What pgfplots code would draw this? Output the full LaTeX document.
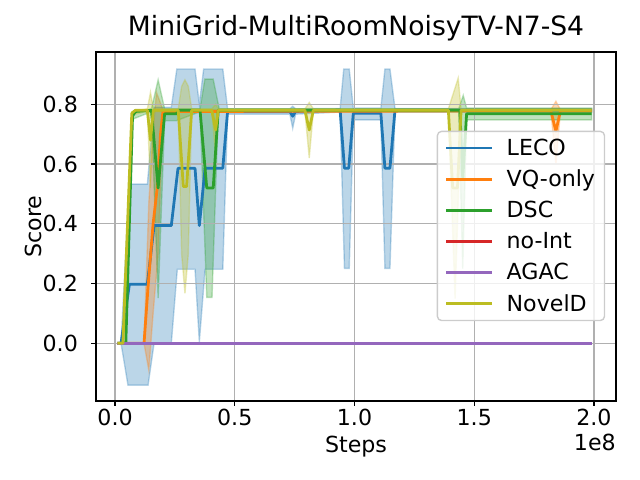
\documentclass[border=0pt]{standalone}
\usepackage{pgfplots}
\pgfplotsset{compat=1.18}
\usepackage{fontspec}
\setmainfont{DejaVu Sans}
\definecolor{c0}{HTML}{1F77B4}
\definecolor{c1}{HTML}{FF7F0E}
\definecolor{c2}{HTML}{2CA02C}
\definecolor{c3}{HTML}{D62728}
\definecolor{c4}{HTML}{9467BD}
\definecolor{c8}{HTML}{BCBD22}
\definecolor{gridgray}{HTML}{B0B0B0}
\definecolor{legedge}{HTML}{CCCCCC}
\newcommand\legtxt[1]{\makebox[0.89in][l]{\rule[-0.05in]{0pt}{0.21in}#1}}
\pgfplotsset{common/.style={at={(0.96in,0.79in)}, anchor=south west, scale only axis,
  width=5.2in, height=3.49in, xmin=-0.0795, xmax=2.092, ymin=-0.193, ymax=0.975}}
\begin{document}
\begin{tikzpicture}
\path[use as bounding box] (0,0) rectangle (6.4in,4.8in);
\begin{axis}[common, hide axis]
\addplot[fill=c0, draw=c0, fill opacity=0.3, draw opacity=0.3, line width=1bp] coordinates {
(0.01,0) (0.025,0) (0.06,0.533) (0.135,0.533) (0.163,0.79) (0.235,0.79) (0.258,0.918) (0.334,0.918) (0.352,0.80) (0.37,0.918) (0.45,0.918) (0.47,0.785) (0.73,0.785) (0.742,0.793) (0.754,0.785) (0.94,0.786) (0.955,0.918) (0.978,0.918) (0.995,0.787) (1.11,0.787) (1.127,0.918) (1.148,0.918) (1.169,0.786) (1.99,0.786)
(1.99,0.774) (1.169,0.774) (1.148,0.251) (1.127,0.251) (1.11,0.748) (0.995,0.748) (0.978,0.251) (0.958,0.251) (0.94,0.774) (0.754,0.767) (0.742,0.72) (0.73,0.767) (0.47,0.767) (0.45,0.248) (0.376,0.248) (0.352,0.005) (0.334,0.248) (0.26,0.248) (0.235,0.0) (0.163,0.0) (0.138,-0.14) (0.054,-0.14) (0.025,0)
} -- cycle;
\addplot[fill=c1, draw=c1, fill opacity=0.3, draw opacity=0.3, line width=1bp] coordinates {
(0.01,0) (0.121,0) (0.141,0.47) (0.16,0.72) (0.173,0.84) (0.2,0.782) (1.82,0.782) (1.841,0.81) (1.86,0.782) (1.99,0.782)
(1.99,0.778) (1.86,0.778) (1.841,0.60) (1.82,0.778) (0.2,0.778) (0.18,0.3) (0.159,0.1) (0.141,-0.09) (0.121,0)
} -- cycle;
\addplot[fill=c2, draw=c2, fill opacity=0.3, draw opacity=0.3, line width=1bp] coordinates {
(0.01,0) (0.045,0) (0.073,0.77) (0.152,0.785) (0.18,0.882) (0.207,0.785) (0.256,0.785) (0.355,0.785) (0.375,0.884) (0.41,0.884) (0.435,0.785) (1.435,0.785) (1.454,0.83) (1.468,0.787) (1.99,0.787)
(1.99,0.748) (1.468,0.748) (1.452,0.25) (1.435,0.775) (0.431,0.775) (0.405,0.154) (0.383,0.154) (0.355,0.775) (0.256,0.745) (0.207,0.745) (0.18,0.151) (0.152,0.775) (0.073,0.75) (0.045,0)
} -- cycle;
\addplot[fill=c8, draw=c8, fill opacity=0.3, draw opacity=0.3, line width=1bp] coordinates {
(0.01,0) (0.033,0) (0.07,0.775) (0.135,0.785) (0.148,0.84) (0.16,0.785) (0.264,0.785) (0.278,0.86) (0.292,0.882) (0.306,0.86) (0.32,0.785) (0.404,0.785) (0.42,0.80) (0.431,0.785) (0.793,0.785) (0.811,0.806) (0.828,0.785) (1.392,0.785) (1.433,0.888) (1.445,0.785) (1.99,0.785)
(1.99,0.775) (1.445,0.775) (1.42,0.15) (1.392,0.775) (0.828,0.775) (0.811,0.62) (0.793,0.775) (0.431,0.775) (0.42,0.63) (0.404,0.775) (0.32,0.775) (0.306,0.3) (0.292,0.167) (0.278,0.3) (0.264,0.775) (0.16,0.775) (0.148,0.52) (0.135,0.775) (0.07,0.765) (0.033,0)
} -- cycle;
\end{axis}
\begin{axis}[common, clip mode=individual,
  xtick={0,0.5,1,1.5,2}, xticklabels={0.0,0.5,1.0,1.5,2.0},
  ytick={0,0.2,0.4,0.6,0.8}, yticklabels={0.0,0.2,0.4,0.6,0.8},
  tick align=outside, tick pos=left, major tick length=3.5bp,
  every tick/.style={black, line width=0.8bp},
  axis line style={line width=0.8bp},
  grid=major, grid style={color=gridgray, line width=0.8bp},
  tick label style={font=\fontsize{16}{19}\selectfont},
  xticklabel style={anchor=base, inner sep=0pt, yshift=-0.194in},
  yticklabel style={anchor=east, inner sep=0pt, xshift=-0.13in},
  title={MiniGrid-MultiRoomNoisyTV-N7-S4},
  title style={at={(axis description cs:0.5,1.0229)}, anchor=base, inner sep=0pt, font=\fontsize{19.2}{23}\selectfont},
  xlabel={Steps}, ylabel={Score},
  xlabel style={at={(axis description cs:0.5,-0.147)}, anchor=base, inner sep=0pt, font=\fontsize{16}{19}\selectfont},
  ylabel style={at={(axis description cs:-0.1044,0.5)}, anchor=base, inner sep=0pt, font=\fontsize{16}{19}\selectfont},
  legend cell align=left,
  legend style={at={(0.6552,0.7745)}, anchor=north west,
    draw=legedge, line width=1bp, fill=white, fill opacity=0.8, draw opacity=1, text opacity=1,
    rounded corners=3bp, inner xsep=0.088in, inner ysep=0.073in,
    row sep=0.126in, column sep=0.147in,
    font=\fontsize{16}{19}\selectfont, nodes={inner sep=0pt}},
  legend image code/.code={\draw[#1, line cap=rect, sharp corners] (0in,0in) -- (0.43in,0in);},
]
\addplot[c0, line width=2bp, line join=round] coordinates {
(0.01,0) (0.025,0) (0.06,0.198) (0.135,0.198) (0.163,0.394) (0.235,0.394) (0.263,0.586) (0.334,0.586) (0.352,0.394) (0.376,0.586) (0.45,0.586) (0.47,0.776) (0.73,0.776) (0.742,0.76) (0.754,0.776) (0.94,0.78) (0.958,0.586) (0.976,0.586) (0.995,0.77) (1.11,0.77) (1.127,0.586) (1.148,0.586) (1.169,0.78) (1.99,0.78)
};
\addlegendentry{\legtxt{LECO}}
\addplot[c1, line width=2bp, line join=round] coordinates {
(0.01,0) (0.121,0) (0.138,0.19) (0.159,0.40) (0.177,0.525) (0.19,0.7) (0.2,0.776) (0.26,0.776) (0.28,0.776) (1.82,0.778) (1.841,0.71) (1.86,0.778) (1.99,0.778)
};
\addlegendentry{\legtxt{VQ-only}}
\addplot[c2, line width=2bp, line join=round] coordinates {
(0.01,0) (0.045,0) (0.073,0.76) (0.085,0.776) (0.152,0.78) (0.18,0.52) (0.207,0.768) (0.256,0.768) (0.265,0.78) (0.355,0.78) (0.383,0.52) (0.41,0.52) (0.431,0.78) (1.44,0.78) (1.452,0.55) (1.468,0.768) (1.99,0.768)
};
\addlegendentry{\legtxt{DSC}}
\addplot[c3, line width=2bp, line join=round] coordinates {(0.01,0) (1.99,0)};
\addlegendentry{\legtxt{no-Int}}
\addplot[c4, line width=2bp, line join=round] coordinates {(0.01,0) (1.99,0)};
\addlegendentry{\legtxt{AGAC}}
\addplot[c8, line width=2bp, line join=round] coordinates {
(0.01,0) (0.033,0) (0.07,0.77) (0.085,0.78) (0.135,0.78) (0.148,0.68) (0.16,0.78) (0.264,0.78) (0.285,0.525) (0.299,0.525) (0.32,0.78) (0.404,0.78) (0.42,0.714) (0.431,0.78) (0.793,0.78) (0.811,0.714) (0.828,0.78) (1.392,0.78) (1.41,0.52) (1.43,0.52) (1.445,0.78) (1.99,0.78)
};
\addlegendentry{\legtxt{NovelD}}
\node[anchor=base east, inner sep=0pt, font=\fontsize{16}{19}\selectfont] at (axis description cs:1,-0.1404) {1e8};
\end{axis}
\end{tikzpicture}
\end{document}
